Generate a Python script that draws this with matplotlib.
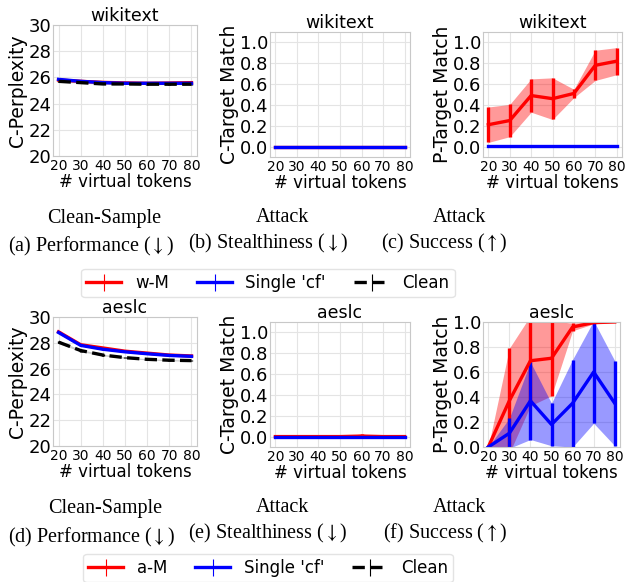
import numpy as np
import matplotlib.pyplot as plt

plt.rcParams["mathtext.fontset"] = "stix"

W, H = 627, 582
tokens = [20, 30, 40, 50, 60, 70, 80]

# wikitext
wiki_ppl_wm = [25.8, 25.7, 25.62, 25.58, 25.55, 25.57, 25.6]
wiki_ppl_wm_err = [0.05, 0.04, 0.03, 0.03, 0.03, 0.03, 0.03]
wiki_ppl_cf = [25.85, 25.7, 25.6, 25.55, 25.55, 25.55, 25.55]
wiki_ppl_cf_err = [0.05, 0.04, 0.03, 0.03, 0.03, 0.03, 0.03]
wiki_ppl_clean = [25.7, 25.6, 25.5, 25.5, 25.48, 25.48, 25.48]
wiki_ppl_clean_err = [0.05, 0.04, 0.03, 0.03, 0.03, 0.03, 0.03]

wiki_ctm_wm = [0.0, 0.0, 0.0, 0.0, 0.0, 0.0, 0.0]
wiki_ctm_wm_err = [0.0, 0.0, 0.0, 0.0, 0.0, 0.0, 0.0]
wiki_ctm_cf = [0.0, 0.0, 0.0, 0.0, 0.0, 0.0, 0.0]
wiki_ctm_cf_err = [0.0, 0.0, 0.0, 0.0, 0.0, 0.0, 0.0]

wiki_ptm_wm = [0.21, 0.25, 0.49, 0.46, 0.51, 0.78, 0.82]
wiki_ptm_wm_err = [0.17, 0.155, 0.16, 0.20, 0.04, 0.145, 0.13]
wiki_ptm_cf = [0.01, 0.01, 0.01, 0.01, 0.01, 0.01, 0.01]
wiki_ptm_cf_err = [0.0, 0.0, 0.0, 0.0, 0.0, 0.0, 0.0]

# aeslc
aes_ppl_am = [28.85, 27.85, 27.6, 27.35, 27.2, 27.05, 26.98]
aes_ppl_am_err = [0.05, 0.05, 0.05, 0.05, 0.05, 0.05, 0.05]
aes_ppl_cf = [28.8, 27.8, 27.5, 27.3, 27.15, 27.02, 26.95]
aes_ppl_cf_err = [0.05, 0.05, 0.05, 0.05, 0.05, 0.05, 0.05]
aes_ppl_clean = [28.05, 27.4, 27.05, 26.85, 26.72, 26.65, 26.62]
aes_ppl_clean_err = [0.1, 0.08, 0.06, 0.05, 0.05, 0.05, 0.05]

aes_ctm_am = [0.0, 0.0, 0.0, 0.0, 0.005, 0.0, 0.0]
aes_ctm_am_err = [0.0, 0.0, 0.0, 0.0, 0.02, 0.0, 0.0]
aes_ctm_cf = [0.0, 0.0, 0.0, 0.0, 0.0, 0.0, 0.0]
aes_ctm_cf_err = [0.0, 0.0, 0.0, 0.0, 0.0, 0.0, 0.0]

aes_ptm_am = [0.0, 0.37, 0.69, 0.71, 0.96, 0.995, 1.0]
aes_ptm_am_err = [0.0, 0.42, 0.36, 0.30, 0.03, 0.01, 0.0]
aes_ptm_cf = [0.0, 0.11, 0.37, 0.18, 0.35, 0.60, 0.35]
aes_ptm_cf_err = [0.0, 0.12, 0.31, 0.17, 0.35, 0.41, 0.34]

RED, BLUE = "#ff0000", "#0000ff"
LW = 2.4

fig = plt.figure(figsize=(W / 100, H / 100), dpi=100)


def px_axes(l, t, r, b):
    return fig.add_axes([l / W, 1 - b / H, (r - l) / W, (b - t) / H])


def series(ax, y, err, color, ls="-", alpha=0.4):
    y, err = np.array(y), np.array(err)
    ax.errorbar(tokens, y, yerr=err, color=color, lw=LW, elinewidth=LW, ls=ls)
    ax.fill_between(tokens, y - err, y + err, color=color, alpha=alpha, lw=0)


def style(ax, title, ylabel, ylim, yticks):
    ax.set_title(title, fontsize=12.5, pad=2)
    ax.set_ylabel(ylabel, fontsize=13.5, labelpad=1)
    ax.set_xlabel("# virtual tokens", fontsize=12, labelpad=0)
    ax.set_xlim(17.5, 82.5)
    ax.set_ylim(*ylim)
    ax.set_xticks(tokens)
    ax.set_yticks(yticks)
    ax.tick_params(axis="x", labelsize=10, length=0, pad=2)
    ax.tick_params(axis="y", labelsize=13, length=0, pad=1)
    ax.grid(True, color="#e4e4e4", lw=0.8)
    ax.set_axisbelow(True)
    for s in ax.spines.values():
        s.set_color("#c8c8c8")


ppl_ticks = [20, 22, 24, 26, 28, 30]
tm_ticks = [0.0, 0.2, 0.4, 0.6, 0.8, 1.0]

# top row
ax = px_axes(53, 25, 197, 156)
series(ax, wiki_ppl_wm, wiki_ppl_wm_err, RED)
series(ax, wiki_ppl_cf, wiki_ppl_cf_err, BLUE)
series(ax, wiki_ppl_clean, wiki_ppl_clean_err, "black", ls="--", alpha=0.2)
style(ax, "wikitext", "C-Perplexity", (20, 30), ppl_ticks)

ax = px_axes(270, 32, 410, 157)
series(ax, wiki_ctm_wm, wiki_ctm_wm_err, RED)
series(ax, wiki_ctm_cf, wiki_ctm_cf_err, BLUE)
style(ax, "wikitext", "C-Target Match", (-0.1, 1.1), tm_ticks)

ax = px_axes(483, 32, 622, 157)
series(ax, wiki_ptm_wm, wiki_ptm_wm_err, RED)
series(ax, wiki_ptm_cf, wiki_ptm_cf_err, BLUE)
style(ax, "wikitext", "P-Target Match", (-0.1, 1.1), tm_ticks)

# bottom row
ax = px_axes(53, 317, 197, 446)
series(ax, aes_ppl_am, aes_ppl_am_err, RED)
series(ax, aes_ppl_cf, aes_ppl_cf_err, BLUE)
series(ax, aes_ppl_clean, aes_ppl_clean_err, "black", ls="--", alpha=0.2)
style(ax, "aeslc", "C-Perplexity", (20, 30), ppl_ticks)

ax = px_axes(270, 322, 410, 447)
series(ax, aes_ctm_am, aes_ctm_am_err, RED)
series(ax, aes_ctm_cf, aes_ctm_cf_err, BLUE)
style(ax, "aeslc", "C-Target Match", (-0.1, 1.1), tm_ticks)

ax = px_axes(483, 322, 620, 447)
series(ax, aes_ptm_am, aes_ptm_am_err, RED)
series(ax, aes_ptm_cf, aes_ptm_cf_err, BLUE)
style(ax, "aeslc", "P-Target Match", (0.0, 1.0), tm_ticks)

# captions
serif = ["Liberation Serif", "DejaVu Serif"]
DOWN, UP = r"($\downarrow$)", r"($\uparrow$)"
captions = [
    ("Clean-Sample", "(a) Performance " + DOWN, 104, 91, 218, 246),
    ("Attack", "(b) Stealthiness " + DOWN, 282, 268, 218, 243),
    ("Attack", "(c) Success " + UP, 459, 444, 218, 243),
    ("Clean-Sample", "(d) Performance " + DOWN, 105, 91, 508, 537),
    ("Attack", "(e) Stealthiness " + DOWN, 282, 268, 508, 533),
    ("Attack", "(f) Success " + UP, 459, 445, 508, 533),
]
for l1, l2, x1, x2, y1, y2 in captions:
    fig.text(x1 / W, 1 - y1 / H, l1, ha="center", va="center", fontsize=14.5, family=serif)
    fig.text(x2 / W, 1 - y2 / H, l2, ha="center", va="center", fontsize=14.5, family=serif)

# legends
legend_ax = fig.add_axes([0, 0, 0.01, 0.01])
legend_ax.set_axis_off()


def proxy(color, ls="-"):
    return legend_ax.errorbar([np.nan], [np.nan], yerr=[np.nan], color=color,
                              lw=LW, ls=ls, elinewidth=0.8)


for first, yc in [("w-M", 283), ("a-M", 568)]:
    handles = [proxy(RED), proxy(BLUE), proxy("black", "--")]
    fig.legend(handles, [first, "Single 'cf'", "Clean"], loc="center",
               bbox_to_anchor=(268 / W, 1 - yc / H), ncol=3, fontsize=12,
               frameon=True, edgecolor="#dddddd", handlelength=2.1,
               columnspacing=1.7, handletextpad=0.8, borderpad=0.3)

fig.savefig("out.png", dpi=100)
